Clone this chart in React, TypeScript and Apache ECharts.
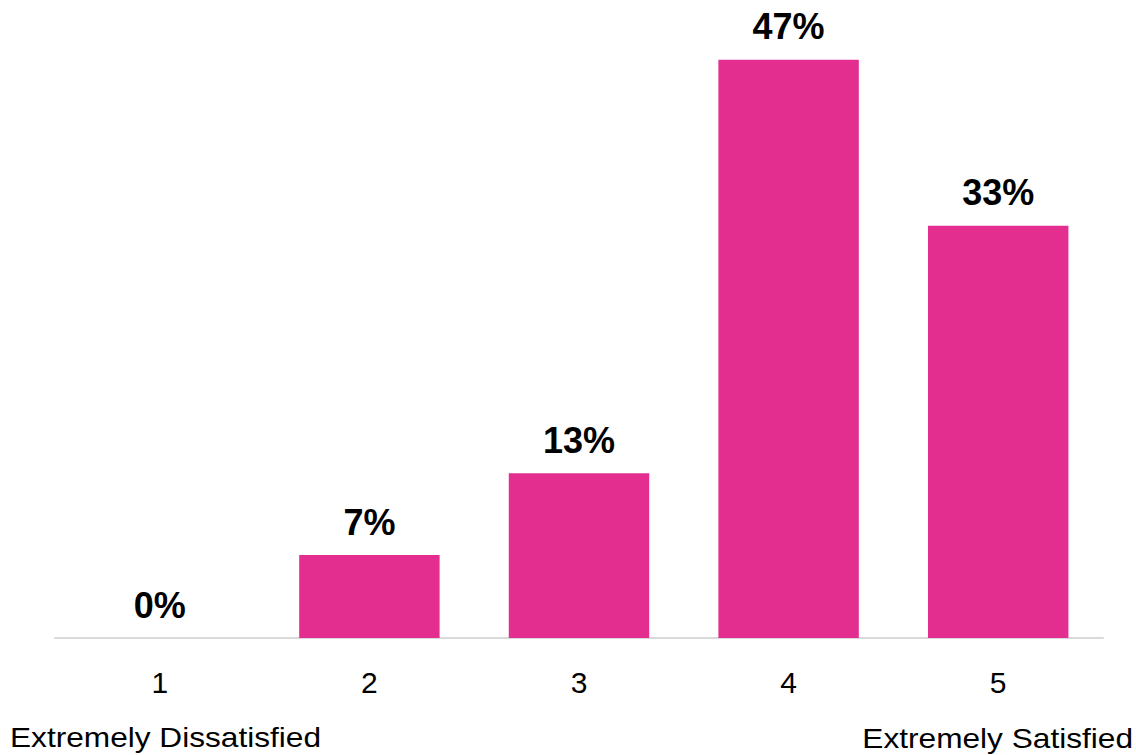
import React, { useEffect, useRef } from "react";
import * as echarts from "echarts";

const categories = ["1", "2", "3", "4", "5"];
const values = [0, 6.7, 13.3, 46.7, 33.3];
const valueLabels = ["0%", "7%", "13%", "47%", "33%"];
const endLabels = ["Extremely Dissatisfied", "Extremely Satisfied"];

export default function App() {
  const ref = useRef<HTMLDivElement>(null);
  useEffect(() => {
    if (!ref.current) return;
    const chart = echarts.init(ref.current, undefined, { renderer: "svg" });
    const font = "'Liberation Sans', Arial, Helvetica, sans-serif";
    chart.setOption({
      animation: false,
      grid: { left: 55, right: 33, top: 19, bottom: 117 },
      xAxis: {
        type: "category",
        data: categories,
        axisLine: { show: true, lineStyle: { color: "#d9d9d9", width: 2 } },
        axisTick: { show: false },
        axisLabel: { color: "#000", fontSize: 30, fontFamily: font, margin: 29 },
      },
      yAxis: { type: "value", min: 0, max: 50, show: false, splitLine: { show: false } },
      series: [
        {
          type: "bar",
          data: values,
          barWidth: "67%",
          itemStyle: { color: "#E32E90" },
          label: {
            show: true,
            position: "top",
            distance: 15,
            color: "#000",
            fontSize: 36,
            fontWeight: "bold",
            fontFamily: font,
            formatter: (p: any) => valueLabels[p.dataIndex],
          },
        },
      ],
      graphic: [
        {
          type: "text",
          x: 10,
          y: 723,
          scaleX: 1.13,
          style: {
            text: endLabels[0],
            fill: "#000",
            fontSize: 28,
            fontFamily: font,
            align: "left",
            verticalAlign: "top",
          },
        },
        {
          type: "text",
          x: 1133,
          y: 724.5,
          scaleX: 1.13,
          style: {
            text: endLabels[1],
            fill: "#000",
            fontSize: 28,
            fontFamily: font,
            align: "right",
            verticalAlign: "top",
          },
        },
      ],
    });
    return () => chart.dispose();
  }, []);
  return (
    <div
      ref={ref}
      style={{ position: "fixed", left: 0, top: 0, width: 1136, height: 755, background: "#fff" }}
    />
  );
}
